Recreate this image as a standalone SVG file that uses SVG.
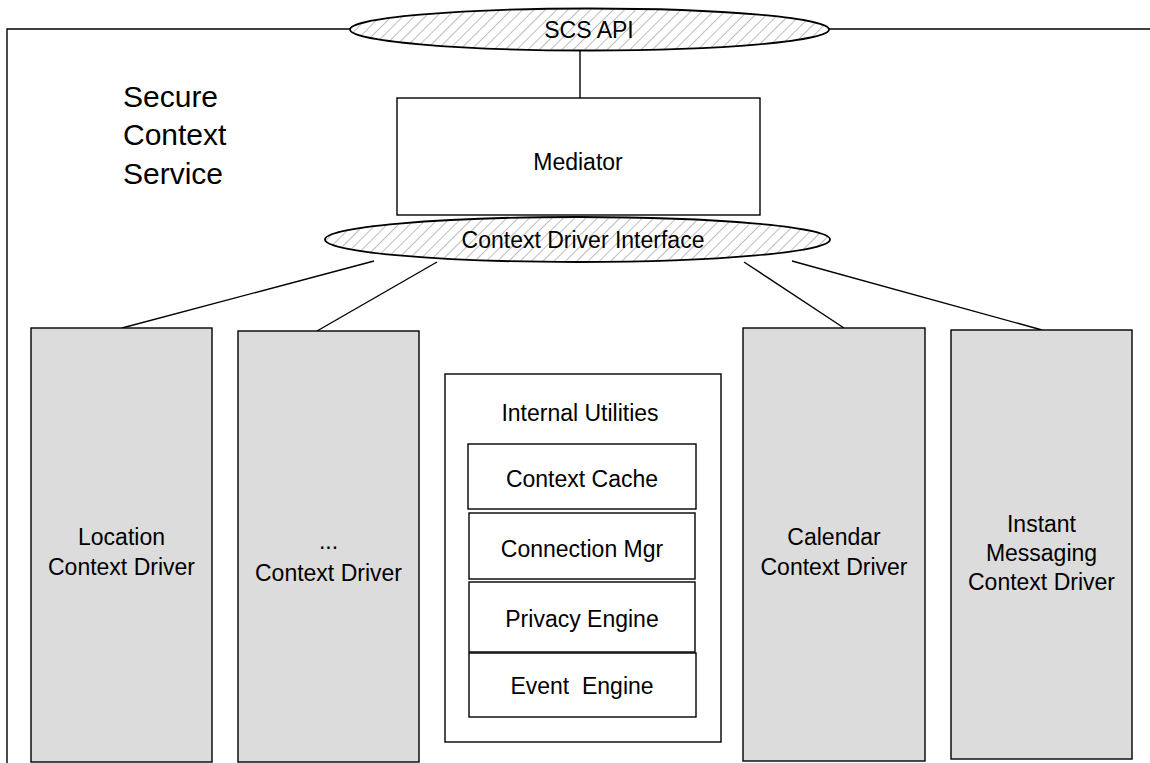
<svg xmlns="http://www.w3.org/2000/svg" width="1150" height="763" viewBox="0 0 1150 763">
<style>
text{font-family:"Liberation Sans",Arial,sans-serif;font-size:23px;fill:#000;text-anchor:middle}
.title{font-size:30px;text-anchor:start}
.box{fill:#fff;stroke:#000;stroke-width:1.4}
.drv{fill:#dcdcdc;stroke:#000;stroke-width:1.4}
.ell{fill:url(#hatch);stroke:#000;stroke-width:1.8}
.ln{fill:none;stroke:#000;stroke-width:1.4}
</style>
<defs>
<pattern id="hatch" patternUnits="userSpaceOnUse" width="8" height="8" patternTransform="rotate(45)">
<rect width="8" height="8" fill="#fff"/>
<line x1="0" y1="0" x2="0" y2="8" stroke="#9a9a9a" stroke-width="1.3"/>
</pattern>
</defs>
<g id="connectors">
<polyline class="ln" points="7,763 7,29 350,29"/>
<line class="ln" x1="829" y1="29" x2="1150" y2="29"/>
<line class="ln" x1="580" y1="50" x2="580" y2="98"/>
<line class="ln" x1="374" y1="261" x2="122" y2="328"/>
<line class="ln" x1="437" y1="262" x2="317" y2="331"/>
<line class="ln" x1="744" y1="262" x2="844" y2="328"/>
<line class="ln" x1="792" y1="261" x2="1042" y2="330"/>
</g>
<g id="title">
<text class="title" x="123" y="107">Secure</text>
<text class="title" x="123" y="145">Context</text>
<text class="title" x="123" y="184">Service</text>
</g>
<g id="scs-api">
<ellipse class="ell" cx="589.5" cy="29.5" rx="239.5" ry="21"/>
<text x="589" y="38">SCS API</text>
</g>
<g id="mediator">
<rect class="box" x="397" y="98" width="363" height="117"/>
<text x="578" y="170">Mediator</text>
</g>
<g id="context-driver-interface">
<ellipse class="ell" cx="577.5" cy="239.5" rx="252.5" ry="22.5"/>
<text x="583" y="248">Context Driver Interface</text>
</g>
<g id="location-driver">
<rect class="drv" x="31" y="328" width="181" height="434"/>
<text x="121.5" y="545">Location</text>
<text x="121.5" y="575">Context Driver</text>
</g>
<g id="other-driver">
<rect class="drv" x="238" y="331" width="181" height="431"/>
<text x="328.5" y="549">...</text>
<text x="328.5" y="581">Context Driver</text>
</g>
<g id="internal-utilities">
<rect class="box" x="445" y="374" width="276" height="368"/>
<text x="580" y="421">Internal Utilities</text>
</g>
<g id="context-cache">
<rect class="box" x="468" y="444" width="228" height="65"/>
<text x="582" y="487">Context Cache</text>
</g>
<g id="connection-mgr">
<rect class="box" x="469" y="513" width="226" height="66"/>
<text x="582" y="557">Connection Mgr</text>
</g>
<g id="privacy-engine">
<rect class="box" x="469" y="582" width="226" height="70"/>
<text x="582" y="627">Privacy Engine</text>
</g>
<g id="event-engine">
<rect class="box" x="469" y="653" width="227" height="64"/>
<text x="582" y="694" xml:space="preserve">Event  Engine</text>
</g>
<g id="calendar-driver">
<rect class="drv" x="743" y="328" width="182" height="433"/>
<text x="834" y="545">Calendar</text>
<text x="834" y="575">Context Driver</text>
</g>
<g id="im-driver">
<rect class="drv" x="951" y="330" width="181" height="429"/>
<text x="1041.5" y="532">Instant</text>
<text x="1041.5" y="561">Messaging</text>
<text x="1041.5" y="590">Context Driver</text>
</g>
</svg>
